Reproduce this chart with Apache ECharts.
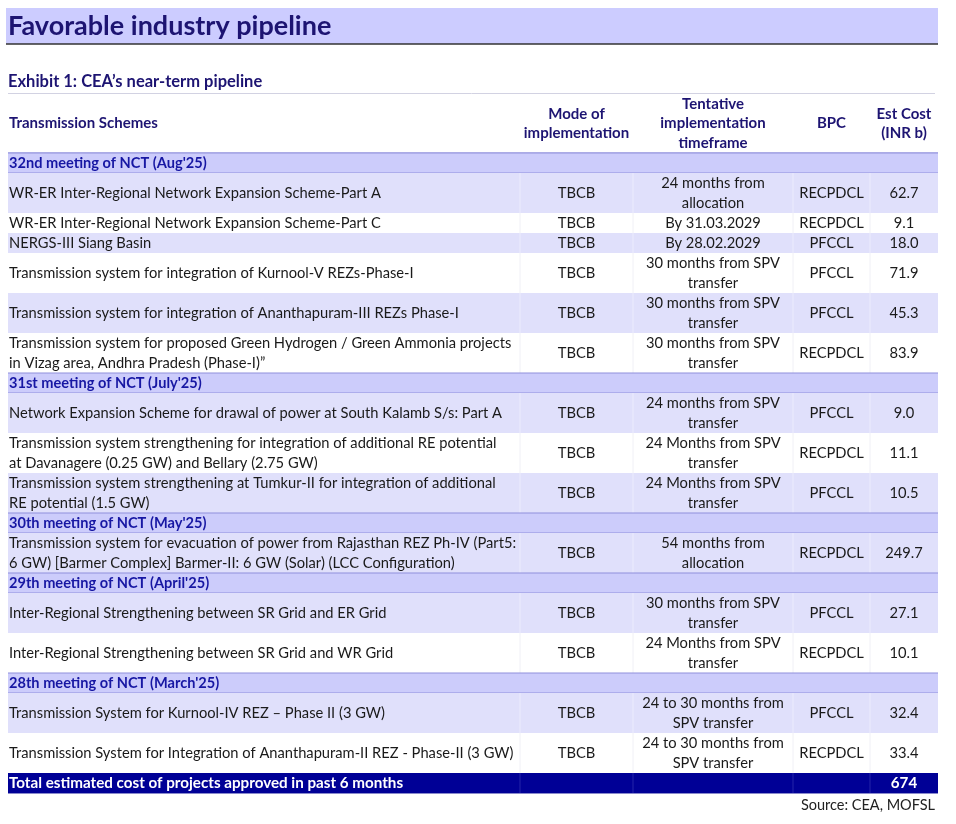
<!DOCTYPE html>
<html>
<head>
<meta charset="utf-8">
<script src="https://cdn.jsdelivr.net/npm/echarts@6/dist/echarts.min.js"></script>
<style>
  html, body { margin: 0; padding: 0; background: #fff; }
  #main { width: 956px; height: 824px; }
</style>
</head>
<body>
<div id="main"></div>
<script>
// table content
const headers = ['Transmission Schemes', 'Mode of\nimplementation', 'Tentative\nimplementation\ntimeframe', 'BPC', 'Est Cost\n(INR b)'];
const meetings = [
  "32nd meeting of NCT (Aug'25)",
  "31st meeting of NCT (July'25)",
  "30th meeting of NCT (May'25)",
  "29th meeting of NCT (April'25)",
  "28th meeting of NCT (March'25)"
];
const projectsPerMeeting = [6, 3, 1, 2, 2];
const schemes = [
  'WR-ER Inter-Regional Network Expansion Scheme-Part A',
  'WR-ER Inter-Regional Network Expansion Scheme-Part C',
  'NERGS-III Siang Basin',
  'Transmission system for integration of Kurnool-V REZs-Phase-I',
  'Transmission system for integration of Ananthapuram-III REZs Phase-I',
  'Transmission system for proposed Green Hydrogen / Green Ammonia projects\nin Vizag area, Andhra Pradesh (Phase-I)\u201d',
  'Network Expansion Scheme for drawal of power at South Kalamb S/s: Part A',
  'Transmission system strengthening for integration of additional RE potential\nat Davanagere (0.25 GW) and Bellary (2.75 GW)',
  'Transmission system strengthening at Tumkur-II for integration of additional\nRE potential (1.5 GW)',
  'Transmission system for evacuation of power from Rajasthan REZ Ph-IV (Part5:\n6 GW) [Barmer Complex] Barmer-II: 6 GW (Solar) (LCC Configuration)',
  'Inter-Regional Strengthening between SR Grid and ER Grid',
  'Inter-Regional Strengthening between SR Grid and WR Grid',
  'Transmission System for Kurnool-IV REZ \u2013 Phase II (3 GW)',
  'Transmission System for Integration of Ananthapuram-II REZ - Phase-II (3 GW)'
];
const modes = ['TBCB', 'TBCB', 'TBCB', 'TBCB', 'TBCB', 'TBCB', 'TBCB', 'TBCB', 'TBCB', 'TBCB', 'TBCB', 'TBCB', 'TBCB', 'TBCB'];
const timeframes = [
  '24 months from\nallocation',
  'By 31.03.2029',
  'By 28.02.2029',
  '30 months from SPV\ntransfer',
  '30 months from SPV\ntransfer',
  '30 months from SPV\ntransfer',
  '24 months from SPV\ntransfer',
  '24 Months from SPV\ntransfer',
  '24 Months from SPV\ntransfer',
  '54 months from\nallocation',
  '30 months from SPV\ntransfer',
  '24 Months from SPV\ntransfer',
  '24 to 30 months from\nSPV transfer',
  '24 to 30 months from\nSPV transfer'
];
const bpcs = ['RECPDCL', 'RECPDCL', 'PFCCL', 'PFCCL', 'PFCCL', 'RECPDCL', 'PFCCL', 'RECPDCL', 'PFCCL', 'RECPDCL', 'PFCCL', 'RECPDCL', 'PFCCL', 'RECPDCL'];
const costs = [62.7, 9.1, 18.0, 71.9, 45.3, 83.9, 9.0, 11.1, 10.5, 249.7, 27.1, 10.1, 32.4, 33.4];
const totalLabel = 'Total estimated cost of projects approved in past 6 months';
const totalCost = 674;

// layout
const FONT = 'Lato, "Open Sans", sans-serif';
const NAVY = '#1d1472';
const colEdges = [8, 520, 633, 793, 870, 938];
const colAlign = ['left', 'center', 'center', 'center', 'center'];
const unitPx = 20;
const headUnits = 2.95;

// build the row list; heights follow the number of text lines
const rows = [{ kind: 'head', cells: headers, h: headUnits }];
let p = 0;
meetings.forEach((m, mi) => {
  rows.push({ kind: 'meeting', cells: [m], h: 1 });
  for (let k = 0; k < projectsPerMeeting[mi]; k++, p++) {
    const cells = [schemes[p], modes[p], timeframes[p], bpcs[p], costs[p].toFixed(1)];
    const lines = Math.max(...cells.map(c => c.split('\n').length));
    rows.push({ kind: 'project', cells, h: lines, shade: k % 2 === 0 });
  }
});
rows.push({ kind: 'total', cells: [totalLabel, '', '', '', String(totalCost)], h: 1 });

let acc = 0;
rows.forEach(r => { r.y0 = acc; acc += r.h; r.y1 = acc; });
const totalUnits = acc;

function renderRow(params, api) {
  const row = rows[params.dataIndex];
  const tl = api.coord([colEdges[0], api.value(1)]);
  const br = api.coord([colEdges[colEdges.length - 1], api.value(2)]);
  const x0 = tl[0], y0 = tl[1], x1 = br[0], y1 = br[1];
  const midY = (y0 + y1) / 2;
  const children = [];

  let bg = '#ffffff', fill = '#1a1a1a', font = 'normal 14.7px ', sep = null, lh = 20;
  if (row.kind === 'head') { fill = NAVY; font = 'bold 15px '; lh = 19.5; }
  if (row.kind === 'meeting') { bg = '#ccccfb'; fill = '#1717a3'; font = 'bold 14.6px '; }
  if (row.kind === 'project') { bg = row.shade ? '#e0e0fb' : '#ffffff'; sep = row.shade ? '#ececfd' : '#f0f0f6'; }
  if (row.kind === 'total') { bg = '#000096'; fill = '#ffffff'; font = 'bold 15.2px '; sep = '#2424a8'; }

  children.push({ type: 'rect', shape: { x: x0, y: y0, width: x1 - x0, height: y1 - y0 }, style: { fill: bg } });

  if (sep) {
    for (let c = 1; c < colEdges.length - 1; c++) {
      const sx = api.coord([colEdges[c], 0])[0];
      children.push({ type: 'line', shape: { x1: sx, y1: y0, x2: sx, y2: y1 }, style: { stroke: sep, lineWidth: 1 } });
    }
  }
  if (row.kind === 'meeting' || row.kind === 'head') {
    children.push({ type: 'line', shape: { x1: x0, y1: y1, x2: x1, y2: y1 }, style: { stroke: '#8f8fdc', lineWidth: 1 } });
  }
  if (row.kind === 'meeting') {
    children.push({ type: 'line', shape: { x1: x0, y1: y0, x2: x1, y2: y0 }, style: { stroke: '#8f8fdc', lineWidth: 1 } });
  }
  if (row.kind === 'total') {
    children.push({ type: 'line', shape: { x1: x0, y1: y1 + 0.5, x2: x1, y2: y1 + 0.5 }, style: { stroke: '#8a8acc', lineWidth: 1 } });
  }

  row.cells.forEach((txt, c) => {
    if (!txt) return;
    const left = api.coord([colEdges[c], 0])[0];
    const right = api.coord([colEdges[c + 1], 0])[0];
    const align = colAlign[c];
    children.push({
      type: 'text',
      style: {
        text: txt,
        x: align === 'left' ? left + 1 : (left + right) / 2,
        y: midY,
        align: align,
        verticalAlign: 'middle',
        fill: fill,
        lineHeight: lh,
        font: font + FONT
      }
    });
  });
  return { type: 'group', children };
}

const chart = echarts.init(document.getElementById('main'), null, { renderer: 'canvas' });
chart.setOption({
  backgroundColor: '#ffffff',
  animation: false,
  title: [
    { text: 'Favorable industry pipeline', left: 8, top: 13, padding: 0,
      textStyle: { fontFamily: FONT, fontSize: 27, fontWeight: 'bold', color: NAVY } },
    { text: 'Exhibit 1: CEA\u2019s near-term pipeline', left: 8, top: 73, padding: 0,
      textStyle: { fontFamily: FONT, fontSize: 16.5, fontWeight: 'bold', color: NAVY } },
    { text: 'Source: CEA, MOFSL', right: 21, top: 798, padding: 0,
      textStyle: { fontFamily: FONT, fontSize: 14.5, fontWeight: 'normal', color: '#222222' } }
  ],
  graphic: [
    { type: 'rect', z: -1, shape: { x: 6, y: 8, width: 932, height: 36 }, style: { fill: '#ccccff' } },
    { type: 'line', shape: { x1: 6, y1: 44, x2: 938, y2: 44 }, style: { stroke: '#333333', lineWidth: 1.5 } },
    { type: 'line', shape: { x1: 8, y1: 93.5, x2: 935, y2: 93.5 }, style: { stroke: '#d2d2e2', lineWidth: 1 } }
  ],
  grid: { left: 0, right: 0, top: 94, height: totalUnits * unitPx },
  xAxis: { type: 'value', min: 0, max: 956, show: false },
  yAxis: { type: 'value', inverse: true, min: 0, max: totalUnits, show: false },
  series: [{
    type: 'custom',
    renderItem: renderRow,
    encode: { x: 0, y: [1, 2] },
    data: rows.map(r => [colEdges[0], r.y0, r.y1])
  }]
});
window.addEventListener('resize', chart.resize);
</script>
</body>
</html>
